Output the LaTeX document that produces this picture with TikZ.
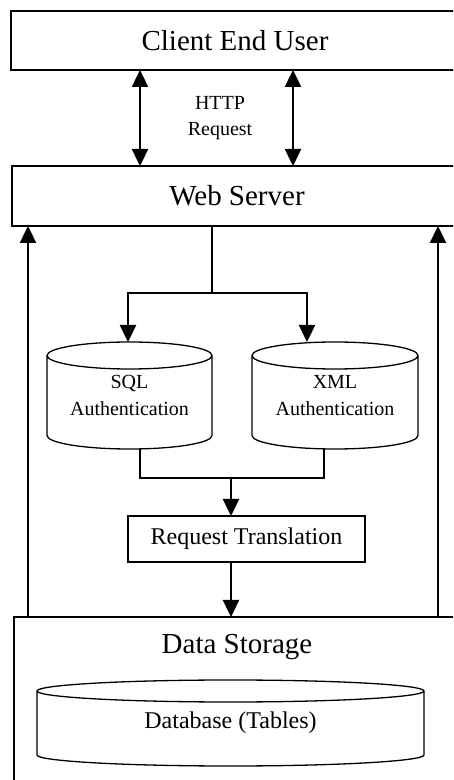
\documentclass[tikz,border=0pt]{standalone}
\usepackage{fontspec}
\setmainfont{Liberation Serif}
\usepackage{tikz}
\usetikzlibrary{positioning,arrows.meta,calc,backgrounds}
\definecolor{ink}{HTML}{000000}
\definecolor{paper}{HTML}{FFFFFF}
\tikzset{
  tier/.style={rectangle, draw=ink, line width=1.4pt, inner sep=0pt, outer sep=0pt,
               font=\fontsize{29pt}{32pt}\selectfont},
  stepbox/.style={rectangle, draw=ink, line width=1.4pt, inner sep=0pt, outer sep=0pt,
                  font=\fontsize{24pt}{27pt}\selectfont},
  drum/.style={rectangle, inner sep=0pt, outer sep=0pt, align=center,
               font=\fontsize{20pt}{27pt}\selectfont},
  note/.style={align=center, inner sep=0pt, font=\fontsize{20pt}{26pt}\selectfont},
  drumline/.style={line width=1.3pt, draw=ink, fill=paper},
  wire/.style={line width=1.2pt, draw=ink},
  flow/.style={-{Triangle[length=17pt,width=16pt]}, line width=2.4pt, draw=ink},
  twoway/.style={{Triangle[length=17pt,width=16pt]}-{Triangle[length=17pt,width=16pt]},
                 line width=2.4pt, draw=ink}
}
\newcommand{\drawdrum}[2]{%
  \begin{scope}[on background layer]
  \draw[drumline] let \p1 = ($(#1.east)-(#1.west)$) in
    ([yshift=-#2]#1.north west) -- ([yshift=#2]#1.south west)
    arc[start angle=180, end angle=360, x radius=0.5*\x1, y radius=#2]
    -- ([yshift=-#2]#1.north east)
    ([yshift=-#2]#1.north) ellipse[x radius=0.5*\x1, y radius=#2];
  \end{scope}}

\begin{document}
\begin{tikzpicture}[x=1pt, y=1pt, node distance=10pt]
\useasboundingbox (0,0) rectangle (453,780);
\clip (0,0) rectangle (453,780);
\node[tier, minimum width=448, minimum height=59] (client) at (235,739.5) {Client End User};
\node[tier, minimum width=450, minimum height=60, below=96pt of client, xshift=2pt] (web) {Web Server};
\node[note] (http) at (220,662) {HTTP\\Request};
\draw[twoway] ([xshift=-95pt]client.south) -- ([xshift=-95pt]client.south |- web.north);
\draw[twoway] ([xshift=58pt]client.south) -- ([xshift=58pt]client.south |- web.north);

\node[drum, minimum width=165, minimum height=107] (sql) at (129.5,384.5) {SQL\\Authentication};
\node[drum, minimum width=166, minimum height=107] (xml) at (335,384.5) {XML\\Authentication};
\drawdrum{sql}{13.5pt}
\drawdrum{xml}{13.5pt}

\coordinate (fork) at (212,487);
\draw[wire] ([xshift=-25pt]web.south) -- (fork);
\draw[flow] (fork) -| ([xshift=-1.5pt]sql.north);
\draw[flow] (fork) -| ([xshift=-28pt]xml.north);

\node[stepbox, minimum width=237, minimum height=46] (trans) at (246.5,241) {Request Translation};
\coordinate (join) at (231,302);
\draw[wire] ([xshift=10.5pt]sql.south) |- (join);
\draw[wire] ([xshift=-11pt]xml.south) |- (join);
\draw[flow] (join) -- (join |- trans.north);

\node[tier, anchor=north, minimum width=446, minimum height=200] (store) at (237,163) {};
\node[font=\fontsize{29pt}{32pt}\selectfont, inner sep=0pt] (storetitle) at (237,133) {Data Storage};
\node[drum, minimum width=387, minimum height=86, font=\fontsize{24pt}{27pt}\selectfont] (db) at (230.5,57) {Database (Tables)};
\drawdrum{db}{11pt}

\draw[flow] ([xshift=-15.5pt]trans.south) -- ([xshift=-15.5pt]trans.south |- store.north);
\draw[flow] ([xshift=-209pt]store.north) -- ([xshift=-209pt]web.south);
\draw[flow] ([xshift=201pt]store.north) -- ([xshift=201pt]web.south);
\end{tikzpicture}
\end{document}
